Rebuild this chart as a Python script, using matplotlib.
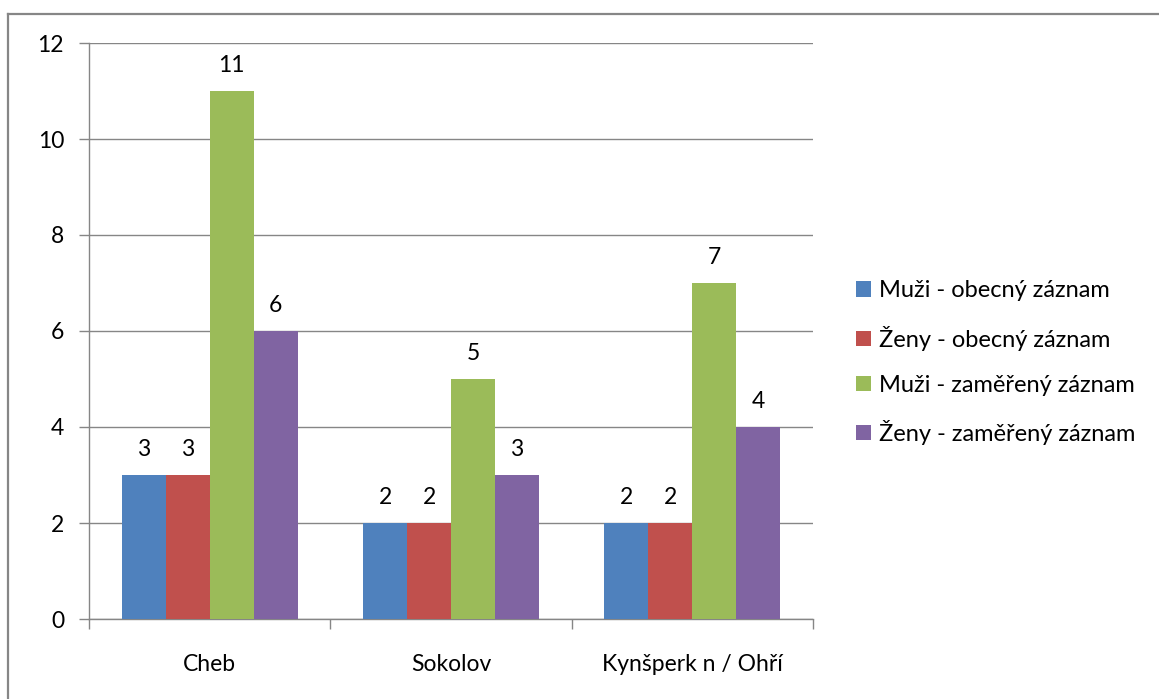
import matplotlib
matplotlib.use("Agg")
import matplotlib.pyplot as plt
from matplotlib.lines import Line2D
import numpy as np

categories = ["Cheb", "Sokolov", "Kynšperk n / Ohří"]
series_names = ["Muži - obecný záznam", "Ženy - obecný záznam",
                "Muži - zaměřený záznam", "Ženy - zaměřený záznam"]
muzi_obecny = [3, 2, 2]
zeny_obecny = [3, 2, 2]
muzi_zamereny = [11, 5, 7]
zeny_zamereny = [6, 3, 4]
colors = ["#4F81BD", "#C0504D", "#9BBB59", "#8064A2"]
yticks = [0, 2, 4, 6, 8, 10, 12]

plt.rcParams['font.family'] = ['Lato', 'DejaVu Sans']
FS = 16.5

W, H = 1159, 699
fig = plt.figure(figsize=(W / 100, H / 100), dpi=100)
ax = fig.add_axes([89 / W, 1 - 619 / H, (813 - 89) / W, (619 - 43) / H])

series = [muzi_obecny, zeny_obecny, muzi_zamereny, zeny_zamereny]
x = np.arange(len(categories))
bw = 0.182
offsets = (np.arange(4) - 1.5) * bw
for vals, off, col, name in zip(series, offsets, colors, series_names):
    bars = ax.bar(x + off, vals, width=bw, color=col, label=name, zorder=3)
    for b, v in zip(bars, vals):
        ax.annotate(str(v), (b.get_x() + b.get_width() / 2, v),
                    xytext=(0, 11), textcoords="offset points",
                    ha="center", va="bottom", fontsize=FS, color="black")

ax.set_xlim(-0.5, len(categories) - 0.5)
ax.set_ylim(0, 12)
ax.set_yticks(yticks)
ax.set_yticklabels([str(t) for t in yticks], fontsize=FS)
ax.yaxis.grid(True, color="#868686", linewidth=1.0, zorder=0)
ax.set_axisbelow(True)

ax.set_xticks(np.arange(-0.5, len(categories), 1.0))
ax.set_xticklabels([])
ax.set_xticks(x, minor=True)
ax.set_xticklabels(categories, minor=True, fontsize=FS)
ax.tick_params(axis="x", which="major", length=7, color="#868686", width=1.0)
ax.tick_params(axis="x", which="minor", length=0, pad=25)
ax.tick_params(axis="y", length=7, color="#868686", width=1.0, pad=11)

for s in ["top", "right"]:
    ax.spines[s].set_visible(False)
for s in ["left", "bottom"]:
    ax.spines[s].set_color("#868686")
    ax.spines[s].set_linewidth(1.0)

leg = fig.legend(loc="upper left", bbox_to_anchor=(847 / W, 1 - 271 / H),
                 frameon=False, fontsize=17, handlelength=0.62,
                 handleheight=0.62, handletextpad=0.35, labelspacing=1.02,
                 borderaxespad=0)

fx = 7.5 / W
fy = 1 - 13.5 / H
fig.add_artist(Line2D([fx, fx], [-0.1, fy], transform=fig.transFigure,
                      color="#868686", linewidth=1.6))
fig.add_artist(Line2D([fx, 1.5], [fy, fy], transform=fig.transFigure,
                      color="#868686", linewidth=1.6))

fig.savefig("out.png", dpi=100)
